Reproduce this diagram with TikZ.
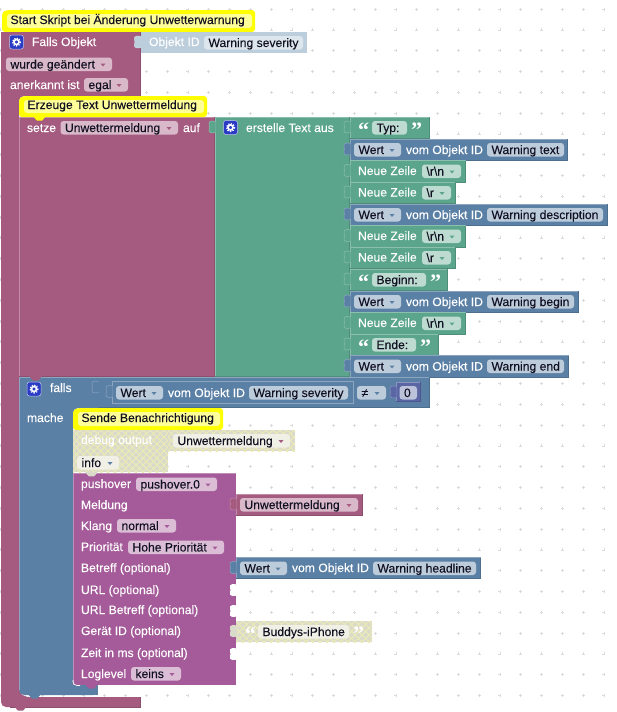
\documentclass[tikz,border=0pt]{standalone}
\usepackage{fontspec}
\setmainfont{Liberation Sans}[FakeBold=0.12]
\newfontfamily\qf{Liberation Serif}[BoldFont={Liberation Serif Bold}]
\definecolor{cpink}{HTML}{A55B80}\definecolor{fpink}{HTML}{D9B9C9}
\definecolor{cgreen}{HTML}{5BA58C}\definecolor{fgreen}{HTML}{BDDBD1}
\definecolor{cblue}{HTML}{5B80A5}\definecolor{fblue}{HTML}{BDCCDB}
\definecolor{cpurp}{HTML}{A55B99}\definecolor{fpurp}{HTML}{DBBDD6}
\definecolor{clight}{HTML}{BCCDDC}\definecolor{flight}{HTML}{DEE6ED}
\definecolor{cnum}{HTML}{5B67A5}\definecolor{fnum}{HTML}{BDC2DB}
\definecolor{hbase}{HTML}{DADACB}\definecolor{hline}{HTML}{ECEBB4}\definecolor{fhatch}{HTML}{F1F0E6}
\definecolor{cyel}{HTML}{FFFF00}\definecolor{fyel}{HTML}{FFFF99}
\definecolor{gear}{HTML}{2A3BC4}\definecolor{txt}{HTML}{111122}
\newcount\nc
\tikzset{
 lab/.style={anchor=base west,inner sep=0pt,outer sep=0pt,font=\fontsize{12.15}{14}\selectfont},
 wht/.style={lab,text=white},
 blk/.style={lab,text=txt},
 quo/.style={anchor=base west,inner sep=0pt,text=white,font=\qf\bfseries\fontsize{22}{22}\selectfont},
}
% block rectangle with highlight
\newcommand{\blk}[5]{%
 \fill[#5] (#1,#2) rectangle (#3,#4);
 \draw[#5!70!white,line width=.7] (#1+.3,#4) -- (#1+.3,#2+.3) -- (#3,#2+.3);
 \draw[#5!86!black,line width=.7] (#3-.3,#2) -- (#3-.3,#4-.3) -- (#1,#4-.3);}
% input tab on left of block
\newcommand{\tabb}[3]{%
 \filldraw[fill=#3,draw=#3!70!white,line width=.5] (#1+.5,#2+4.5) .. controls (#1-2,#2+3.5) and (#1-7,#2+4) .. (#1-6,#2+7) .. controls (#1-5.5,#2+9) and (#1-5.5,#2+11) .. (#1-6,#2+13) .. controls (#1-7,#2+16) and (#1-2,#2+16.5) .. (#1+.5,#2+15.5);}
% empty socket
\newcommand{\sock}[2]{%
 \fill[white] (#1+.5,#2+4.5) .. controls (#1-2,#2+3.5) and (#1-7,#2+4) .. (#1-6,#2+7) .. controls (#1-5.5,#2+9) and (#1-5.5,#2+11) .. (#1-6,#2+13) .. controls (#1-7,#2+16) and (#1-2,#2+16.5) .. (#1+.5,#2+15.5) -- cycle;}
% bottom notch
\newcommand{\tailb}[3]{\fill[#3] (#1,#2-1) -- (#1+2.5,#2+2) -- (#1+4,#2+3.5) -- (#1+9,#2+3.5) -- (#1+10.5,#2+2) -- (#1+13,#2-1) -- cycle;}
% text
\newcommand{\wt}[3]{\global\advance\nc by 1 \node[wht] (n\the\nc) at (#1,#2) {#3};}
\newcommand{\bt}[3]{\global\advance\nc by 1 \node[blk] (n\the\nc) at (#1,#2) {#3};}
% field: x1 y1 x2 fillcolor text arrowcolour(empty= none)
\newcommand{\fld}[6]{%
 \fill[#4,rounded corners=3] (#1,#2) rectangle (#3,#2+13.5);
 \bt{#1+4.5}{#2+11}{#5}%
 \if\relax\detokenize{#6}\relax\else
 \fill[#6] (#3-11.5,#2+6) -- (#3-6.5,#2+6) -- (#3-9,#2+9) -- cycle;\fi}
% gear icon
\newcommand{\gearic}[2]{%
 \fill[gear,draw=white!70!gear,line width=.5,rounded corners=2.5] (#1,#2) rectangle (#1+14,#2+14);
 \draw[white,line width=1.6] (#1+7,#2+7) circle (2.5);
 \draw[white,line width=1.3,dash pattern=on 1.3 off 1.3] (#1+7,#2+7) circle (3.9);}
% hatch
\newcommand{\hatch}[4]{%
 \begin{scope}
 \clip (#1,#2) rectangle (#3,#4);
 \fill[hbase] (#1,#2) rectangle (#3,#4);
 \foreach \k in {-20,...,30}{
  \draw[hline,line width=1] (#1+\k*7,#2) -- (#1+\k*7+50,#2+50);
  \draw[hline,line width=1] (#1+\k*7,#2) -- (#1+\k*7-50,#2+50);}
 \end{scope}}
% comment
\newcommand{\cmtb}[6]{%
 \fill[cyel,rounded corners=3] (#1,#4+.01) -- (#1,#2+2) -- (#1+5,#2) -- (#3,#2) -- (#3,#4+.01) -- cycle;
 \fill[fyel,rounded corners=3] (#1+5,#2+4) rectangle (#3-3,#4-4);
 \tailb{#1+#5}{#4}{cyel}
 \bt{#1+8.5}{#4-8}{#6}}
% rows
\newcommand{\wertrow}[5]{% x1 y x2 fieldx2 text
 \blk{#1}{#2}{#3}{#2+21.7}{cblue}
 \tabb{#1}{#2}{cblue}
 \fld{#1+4}{#2+4}{#1+51}{fblue}{Wert}{cblue}
 \wt{#1+56}{#2+15}{vom Objekt ID}
 \fld{#1+137}{#2+4}{#4}{fblue}{#5}{}}
\newcommand{\nzrow}[4]{% y x2 text fieldx2
 \blk{350}{#1}{#2}{#1+21.7}{cgreen}
 \tabb{350}{#1}{cgreen}
 \wt{358}{#1+14.5}{Neue Zeile}
 \fld{422}{#1+4}{#4}{fgreen}{#3}{cgreen}}
\newcommand{\qrow}[4]{% y x2 text fieldx2
 \blk{350}{#1}{#2}{#1+21.7}{cgreen}
 \tabb{350}{#1}{cgreen}
 \global\advance\nc by 1 \node[quo] (n\the\nc) at (358,#1+20) {“};
 \fld{372}{#1+4}{#4}{fgreen}{#3}{}
 \global\advance\nc by 1 \node[quo] (n\the\nc) at (#4+4,#1+20) {”};}
\begin{document}
\begin{tikzpicture}[x=1pt,y=-1pt]
\useasboundingbox (0,0) rectangle (617,712);
\fill[white] (0,0) rectangle (617,712);
% grid
\foreach \i in {0,...,29}{\foreach \j in {0,...,33}{
 \draw[black!14,line width=.5] ({.6+\i*20.8-1.5},{9+\j*20.8}) -- ({.6+\i*20.8+1.5},{9+\j*20.8});
 \draw[black!14,line width=.5] ({.6+\i*20.8},{9+\j*20.8-1.5}) -- ({.6+\i*20.8},{9+\j*20.8+1.5});}}
% Start comment
\cmtb{2}{10}{255}{32}{7}{Start Skript bei Änderung Unwetterwarnung}
% Falls Objekt C-shape
\fill[cpink,rounded corners=5] (1,32) -- (1,707) -- (140.5,707) -- (140.5,697) -- (24,697) -- (19,692) -- (19,96) -- (140.5,96) -- (140.5,32) -- cycle;
\fill[cpink] (1,32) rectangle (12,40);
\fill[cpink] (130,697) rectangle (140.5,707);
\fill[cpink] (130,32) rectangle (140.5,96);
\draw[cpink!86!black,line width=.7] (10,707) -- (140.5,707) -- (140.5,697);
\tailb{14}{707}{cpink}
\draw[cpink!86!black,line width=.7] (140.3,32) -- (140.3,96);
% Objekt ID
\fill[clight] (140.5,32) rectangle (307,53);
\tabb{140.5}{32}{clight}
\wt{149}{46}{Objekt ID}
\fld{204}{36}{303}{flight}{Warning severity}{}
\gearic{9.5}{35}
\wt{32}{46}{Falls Objekt}
\fld{6}{57.5}{112}{fpink}{wurde geändert}{cpink}
\wt{10}{89}{anerkannt ist}
\fld{84}{78}{128}{fpink}{egal}{cpink}
% setze block
\blk{19}{117}{215}{377}{cpink}
\cmtb{19}{96}{207}{117}{14}{Erzeuge Text Unwettermeldung}
\wt{27}{132}{setze}
\fld{60.5}{121}{178}{fpink}{Unwettermeldung}{cpink}
\wt{183}{132}{auf}
% text join
\blk{215}{117}{350}{377}{cgreen}
\tabb{215}{117}{cgreen}
\gearic{223.5}{120.5}
\wt{246}{132}{erstelle Text aus}
\qrow{117}{430}{Typ:}{407}
\wertrow{350}{139}{568}{564}{Warning text}
\nzrow{160.5}{466}{\textbackslash r\textbackslash n}{461}
\nzrow{182}{456}{\textbackslash r}{451}
\wertrow{350}{204}{608}{603}{Warning description}
\nzrow{225.5}{466}{\textbackslash r\textbackslash n}{461}
\nzrow{247}{456}{\textbackslash r}{451}
\qrow{269}{448}{Beginn:}{426}
\wertrow{350}{291}{579}{574}{Warning begin}
\nzrow{312.5}{466}{\textbackslash r\textbackslash n}{461}
\qrow{334}{439}{Ende:}{416}
\wertrow{350}{355.5}{569}{564}{Warning end}
% falls
\fill[cblue,rounded corners=5] (19,377) -- (19,695) -- (98,695) -- (98,685) -- (78,685) -- (73,680) -- (73,408) -- (98,408) -- (98,377) -- cycle;
\fill[cblue] (19,377) rectangle (30,390);
\fill[cblue] (85,685) rectangle (98,695);
\fill[cblue] (70,377) rectangle (98,408);
\draw[cblue!70!white,line width=.7] (19.3,690) -- (19.3,377.3) -- (98,377.3);
\tailb{28}{695}{cblue}
\tailb{29}{377}{cpink}
\blk{98}{377}{430}{408}{cblue}
\draw[cblue,line width=1] (98,378) -- (98,407);
\tabb{98}{377}{cblue}
\blk{112}{381}{354}{404}{cblue}
\draw[cblue!70!white,line width=.6] (112.3,381.3) rectangle (353.7,403.7);
\tabb{112}{381.5}{cblue}
\gearic{27}{382}
\wt{50}{392}{falls}
\wt{27}{422}{mache}
\fld{116}{386}{163}{fblue}{Wert}{cblue}
\wt{168}{397}{vom Objekt ID}
\fld{249}{386}{348}{fblue}{Warning severity}{}
\fld{357}{386}{386}{fblue}{≠}{cblue}
\blk{396}{382}{421}{402}{cnum}
\tabb{396}{382}{cnum}
\fld{399.5}{386}{417}{fnum}{0}{}
% Sende
\cmtb{73}{408}{223}{430}{12}{Sende Benachrichtigung}
% debug
\hatch{73}{430}{168}{472}
\hatch{168}{430}{295}{451}
\wt{81}{444}{debug output}
\fld{173}{434}{290}{fhatch}{Unwettermeldung}{cpink}
\fld{77}{456}{119}{fhatch}{info}{cblue}
% pushover
\fill[cpurp] (73,473) rectangle (236,685);
\draw[cpurp!70!white,line width=.7] (73.3,685) -- (73.3,473.3) -- (236,473.3);
\draw[white,line width=.7,rounded corners=4] (73,680) -- (73,685.5) -- (80,685.5);
\tailb{85}{472.8}{hbase}
\tailb{85}{685}{cpurp}
\wt{81}{488}{pushover}
\fld{136}{477.5}{217}{fpurp}{pushover.0}{cpurp}
\wt{81}{509}{Meldung}
\wt{81}{530}{Klang}
\fld{117}{519}{176}{fpurp}{normal}{cpurp}
\wt{81}{551}{Priorität}
\fld{128}{540.5}{224}{fpurp}{Hohe Priorität}{cpurp}
\wt{81}{572}{Betreff (optional)}
\wt{81}{594}{URL (optional)}
\wt{81}{614}{URL Betreff (optional)}
\wt{81}{635}{Gerät ID (optional)}
\wt{81}{657}{Zeit in ms (optional)}
\wt{81}{678}{Loglevel}
\fld{131}{667}{181}{fpurp}{keins}{cpurp}
\sock{236}{580}
\sock{236}{601}
\sock{236}{644}
% values
\blk{236}{494}{362.5}{515.5}{cpink}
\tabb{236}{494}{cpink}
\fld{240}{498}{358}{fpink}{Unwettermeldung}{cpink}
\blk{236}{557.5}{481}{579}{cblue}
\tabb{236}{557.5}{cblue}
\fld{240}{561.5}{287}{fblue}{Wert}{cblue}
\wt{292}{572}{vom Objekt ID}
\fld{373}{561.5}{476}{fblue}{Warning headline}{}
\hatch{236}{621}{372}{642}
\fill[hbase] (236.5,625.5) .. controls (234,624.5) and (229,625) .. (230,628) .. controls (230.5,630) and (230.5,632) .. (230,634) .. controls (229,637) and (234,637.5) .. (236.5,636.5) -- cycle;
\global\advance\nc by 1 \node[quo] (n\the\nc) at (245,641) {“};
\fld{258}{625}{349}{fhatch}{Buddys-iPhone}{}
\global\advance\nc by 1 \node[quo] (n\the\nc) at (353,641) {”};
\end{tikzpicture}
\end{document}
